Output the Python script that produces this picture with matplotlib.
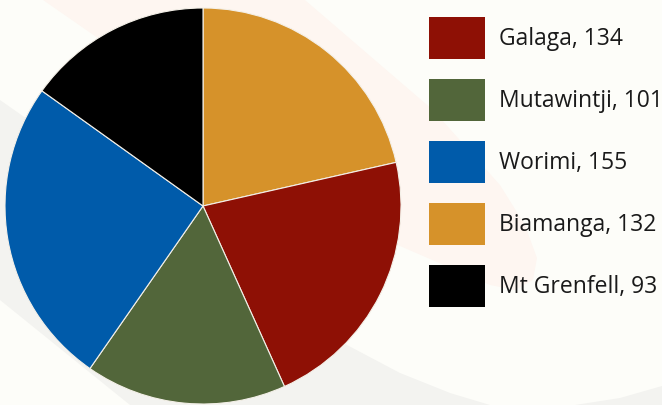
import matplotlib
matplotlib.use("Agg")
import matplotlib.pyplot as plt
from matplotlib.patches import Polygon, Rectangle

# legend order
names = ["Galaga", "Mutawintji", "Worimi", "Biamanga", "Mt Grenfell"]
values = [134, 101, 155, 132, 93]
colors = ["#8e1005", "#52663a", "#005baa", "#d6922a", "#000000"]

# order of the wedges, clockwise from 12 o'clock
pie_order = ["Biamanga", "Galaga", "Mutawintji", "Worimi", "Mt Grenfell"]

W, H = 662, 405
fig = plt.figure(figsize=(W / 100, H / 100), dpi=100)
fig.patch.set_facecolor("#fdfdf9")

# background axes in pixel coords
bg = fig.add_axes([0, 0, 1, 1])
bg.set_xlim(0, W)
bg.set_ylim(H, 0)
bg.axis("off")

peach = [(43, 0), (305, 0), (433, 110), (500, 185), (525, 225), (537, 258),
         (533, 280), (515, 290), (490, 285), (393, 243)]
gray1 = [(0, 100), (100, 170), (200, 240), (300, 315), (347, 345), (400, 373),
         (450, 393), (490, 405), (130, 405), (0, 300)]
gray2 = [(575, 405), (620, 398), (662, 386), (662, 405)]
bg.add_patch(Polygon(peach, closed=True, facecolor="#fef6f1", edgecolor="none"))
bg.add_patch(Polygon(gray1, closed=True, facecolor="#f3f3f0", edgecolor="none"))
bg.add_patch(Polygon(gray2, closed=True, facecolor="#f3f3f0", edgecolor="none"))

# legend
for i, (n, v, c) in enumerate(zip(names, values, colors)):
    y0 = 17 + 62 * i
    bg.add_patch(Rectangle((429, y0), 56, 42, facecolor=c, edgecolor="none"))
    bg.text(499, y0 + 22, "{}, {}".format(n, v), fontsize=16.5, family="Open Sans",
            color="#1a1a1a", va="center", ha="left")

# pie
cx, cy, r = 203, 206, 198
ax = fig.add_axes([(cx - r) / W, (H - cy - r) / H, 2 * r / W, 2 * r / H])
pv = [values[names.index(n)] for n in pie_order]
pc = [colors[names.index(n)] for n in pie_order]
ax.pie(pv, colors=pc, startangle=90, counterclock=False,
       wedgeprops=dict(edgecolor="#f4f0e8", linewidth=0.8))
ax.set_xlim(-1, 1)
ax.set_ylim(-1, 1)
ax.axis("off")

fig.savefig("out.png", dpi=100, facecolor=fig.get_facecolor())
